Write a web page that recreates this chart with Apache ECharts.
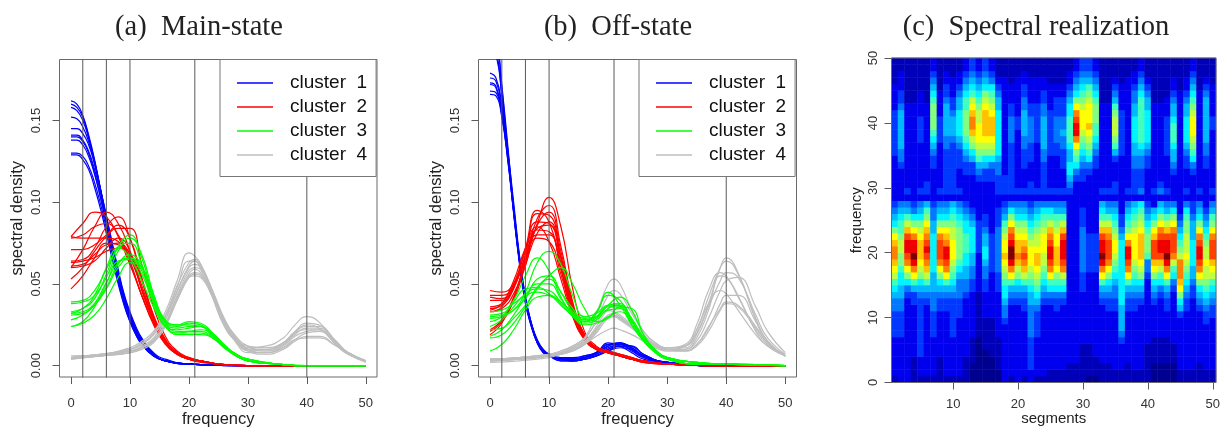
<!DOCTYPE html>
<html><head><meta charset="utf-8">
<script src="https://cdn.jsdelivr.net/npm/echarts@6/dist/echarts.min.js"></script>
<style>html,body{margin:0;padding:0;background:#fff}#c{width:1227px;height:429px;filter:blur(0.5px)}</style>
</head><body><div id="c"></div>
<script>
const titles=["(a)  Main-state","(b)  Off-state","(c)  Spectral realization"];
const clusterNames=["cluster  1","cluster  2","cluster  3","cluster  4"];
const clusterColors=["#0000ff","#ff0000","#00ff00","#bebebe"];
const freqTicks=[0,10,20,30,40,50];
const densityTicks=[0,0.05,0.10,0.15];
const segTicks=[10,20,30,40,50];
const heatFreqTicks=[0,10,20,30,40,50];
const vlines=[2,6,10,21,40];
// densities in thousandths
const a1X=[0,1,2,3,4,5,6,7,8,9,10,11,12,14,16,20,30,50];
const a1=[
[162,160,153,141,126,108,89,70,53,39,28,20,14,6,3,1,0,0],
[160,158,152,140,125,107,88,69,52,38,27,19,13,6,3,1,0,0],
[158,156,150,139,125,108,90,72,55,41,30,21,15,7,3,1,0,0],
[152,151,146,137,124,108,91,74,57,43,31,22,16,7,3,1,0,0],
[145,145,142,135,123,108,92,75,59,44,33,24,17,8,4,1,0,0],
[141,141,138,131,120,106,90,73,57,43,32,23,16,7,3,1,0,0],
[140,140,137,130,118,103,87,70,54,41,30,21,15,7,3,1,0,0],
[138,138,135,128,117,103,87,71,56,42,31,22,16,7,3,1,0,0],
[130,130,128,122,112,99,84,68,53,40,30,21,15,7,3,1,0,0],
[129,129,126,120,109,96,81,65,50,37,27,19,13,6,3,1,0,0]];
const a2X=[0,2,4,6,8,10,12,14,16,18,20,22,25,30,40,50];
const a2=[
[79,87,94,91,79,62,43,26,14,8,5,3,1,0,0,0],
[60,71,85,94,87,70,47,28,15,8,4,3,1,0,0,0],
[78,80,85,87,80,64,43,26,14,7,4,3,1,0,0,0],
[64,65,72,85,91,78,53,30,16,8,5,3,1,0,0,0],
[53,60,70,79,84,84,62,36,18,9,5,3,1,0,0,0],
[71,71,74,80,86,78,54,31,16,8,4,3,1,0,0,0],
[79,78,78,78,76,66,47,28,14,7,4,3,1,0,0,0],
[61,62,68,74,75,68,49,29,15,8,4,3,1,0,0,0],
[47,55,66,75,74,62,43,25,13,7,4,3,1,0,0,0],
[63,64,66,70,72,69,52,30,16,8,4,2,1,0,0,0],
[60,61,64,72,78,70,46,27,14,7,4,3,1,0,0,0]];
const a3X=[0,2,4,6,8,10,12,14,16,18,20,22,24,26,28,30,35,40,50];
const a3=[
[39,40,46,59,73,80,66,42,27,24,26,25,19,12,7,4,1,0,0],
[38,39,43,54,70,78,68,44,28,25,27,26,20,12,7,3,1,0,0],
[33,35,41,56,72,75,62,40,26,23,24,24,18,11,6,3,1,0,0],
[32,33,38,48,62,68,61,41,27,25,25,24,19,12,7,3,1,0,0],
[32,35,43,60,72,66,52,36,24,22,23,24,20,13,7,4,1,0,0],
[31,32,37,47,60,66,60,42,26,21,21,21,18,12,7,3,1,0,0],
[28,31,38,51,63,66,58,39,24,20,21,22,19,12,7,4,1,0,0],
[24,27,36,50,64,65,56,38,24,20,20,20,17,11,6,3,1,0,0],
[24,26,31,41,54,63,60,43,26,19,19,19,17,11,6,3,1,0,0]];
const a4X=[0,5,10,12,14,16,18,20,21,22,24,26,28,30,33,36,38,40,42,45,47,50];
const a4=[
[6,7,11,15,21,33,52,69,67,62,42,24,15,11,12,17,25,30,27,14,8,3],
[5,7,10,13,20,31,49,63,65,62,46,27,16,12,11,14,21,26,25,15,8,3],
[5,7,10,13,19,29,46,61,64,61,45,28,17,11,10,14,21,24,24,14,8,3],
[5,7,9,12,17,28,45,60,62,60,46,29,18,12,9,13,19,23,23,14,8,3],
[5,6,9,11,16,26,43,58,60,59,45,28,17,10,9,13,20,25,23,13,7,3],
[5,6,9,11,16,26,42,56,59,57,44,28,17,10,8,12,18,21,22,13,8,3],
[5,6,8,11,15,25,40,54,56,55,43,27,15,9,8,11,16,20,21,14,8,3],
[4,6,8,11,15,25,41,55,57,56,44,28,16,9,7,10,15,18,18,12,7,3],
[4,6,8,10,14,24,40,54,55,54,42,26,14,8,8,11,16,17,17,12,7,2],
[5,6,10,14,19,30,48,64,64,59,42,25,15,10,10,14,20,22,22,13,8,3]];
const b1X=[0,1,2,3,4,5,6,7,8,9,10,12,14,16,18,20,22,24,26,30,40,50];
const b1=[
[215,205,172,135,97,65,41,26,16,10,7,5,5,6,8,13,14,11,6,2,0,0],
[205,200,170,132,94,63,39,25,15,10,7,4,4,6,8,14,12,8,4,1,0,0],
[200,194,165,130,93,62,38,24,14,9,6,4,4,5,8,13,13,9,5,1,0,0],
[192,190,165,131,96,64,40,25,15,9,7,4,4,5,7,12,14,11,6,2,0,0],
[179,176,160,132,100,67,42,26,15,9,6,4,3,4,6,10,13,12,7,2,0,0],
[176,174,158,130,97,65,40,25,14,9,6,4,3,4,6,9,12,12,7,2,0,0],
[173,171,155,128,95,64,40,25,15,9,7,4,4,5,7,11,13,11,6,2,0,0],
[172,170,154,126,94,63,39,24,14,8,6,3,3,4,6,9,11,10,6,2,0,0],
[168,167,153,128,97,66,42,26,15,9,7,4,4,5,8,12,14,10,5,2,0,0],
[166,165,152,126,95,64,40,25,14,8,6,3,3,4,6,10,12,10,6,2,0,0]];
const b2X=[0,2,4,6,8,10,12,14,16,18,20,22,24,26,30,40,50];
const b2=[
[46,45,50,65,87,103,85,47,21,12,9,7,5,3,1,0,0],
[43,43,49,66,90,98,73,39,19,11,9,7,5,3,1,0,0],
[42,41,50,72,95,88,60,32,17,11,9,7,5,3,1,0,0],
[40,40,48,68,93,92,66,35,18,11,8,6,4,3,1,0,0],
[36,38,49,70,88,87,63,34,18,11,8,6,4,3,1,0,0],
[35,37,47,67,84,86,67,37,19,11,8,6,4,3,1,0,0],
[34,38,52,72,85,76,53,30,16,10,8,6,4,3,1,0,0],
[33,36,48,66,83,82,60,33,17,10,8,6,4,2,1,0,0],
[33,35,44,62,81,88,66,36,18,11,8,6,4,3,1,0,0],
[22,28,42,64,86,94,70,38,19,11,8,6,4,3,1,0,0],
[21,27,40,61,80,80,59,33,17,10,8,6,4,2,1,0,0],
[19,26,41,63,78,76,56,31,16,10,8,6,4,2,1,0,0]];
const b3X=[0,2,4,6,8,10,12,14,16,18,20,22,24,26,28,30,35,40,50];
const b3=[
[33,34,38,43,45,43,39,33,29,30,34,35,27,17,9,5,1,1,0],
[31,32,40,55,66,58,42,31,27,33,43,40,28,16,9,5,2,1,0],
[30,31,34,45,63,70,62,43,30,32,37,37,27,16,8,4,1,1,0],
[29,30,34,41,53,55,45,33,27,32,45,37,25,15,8,4,1,1,0],
[27,30,39,47,48,44,37,31,28,30,36,36,25,15,8,4,1,1,0],
[24,28,36,44,47,46,39,32,27,29,37,38,27,16,9,5,1,1,0],
[22,23,29,37,48,55,60,50,35,27,29,36,35,19,10,5,2,1,0],
[18,22,31,42,50,50,41,31,26,28,35,37,29,17,9,5,2,1,0],
[17,19,26,36,47,53,45,35,28,30,37,42,34,19,9,5,2,1,0],
[9,13,22,34,42,43,38,30,25,26,30,33,27,17,9,5,2,1,0]];
const b4X=[0,5,10,12,14,16,18,20,21,22,24,26,28,30,33,35,37,39,40,42,45,47,50];
const b4=[
[4,5,7,9,12,17,32,50,53,50,34,21,14,11,12,20,38,60,66,57,28,15,6],
[4,4,6,8,11,16,28,43,46,44,32,21,14,11,12,22,42,60,64,56,29,15,6],
[3,4,6,7,10,14,24,35,38,37,28,19,13,11,13,25,46,57,55,43,21,12,6],
[4,5,7,9,12,17,26,34,33,31,25,18,13,11,11,19,36,52,57,54,31,17,7],
[4,4,6,8,10,14,22,31,32,30,24,17,12,10,10,15,29,46,52,54,36,21,8],
[3,4,6,7,10,14,22,30,31,29,24,17,12,10,10,17,34,55,54,42,22,13,6],
[3,4,6,7,9,13,21,30,30,28,23,17,12,10,12,22,38,46,44,34,19,12,7],
[3,4,6,7,10,13,20,29,30,29,23,17,12,10,9,13,23,38,43,43,27,15,6],
[4,5,7,8,11,15,23,30,31,29,24,17,12,9,9,13,24,35,39,37,24,14,6],
[2,3,5,7,9,13,18,22,23,22,19,15,11,9,9,12,21,34,38,36,23,14,6]];
// one string per segment, one hex level per frequency row from 0 upward
const heatLevels=[
"122222233 33445679ab ccba865432 2222223333 33322221111",
"222222233 3344556678 8998776542 2222344555 55543322211",
"222222222 22223468ac deedb97542 3222222222 22221111111",
"111122222 2223357ace feeca86432 2222222222 22221111111",
"122233333 333345689a bbba986542 3222222233 33222211111",
"122222222 22234579bc dedcba8752 3322222222 22221111111",
"122222233 3344455566 6666554432 2222334567 88887654322",
"111122222 22334568ac dddca86542 3222222233 33222211111",
"122222222 2233457acd eecba86542 3333333445 55554332211",
"122222233 3333456789 aaa9987652 3333333345 55433222111",
"122222222 2333444567 8888876542 3222333456 66655432211",
"111122222 2222344556 6777665432 2223345678 88877654322",
"000111122 2222233445 5666654322 222335689b ccba9765433",
"000000011 1111122222 2333332222 22345789aa a9987654322",
"000001111 1222233445 6655433222 22335689ab bbba9865433",
"000011111 1222222233 3333222222 22334689ab bba98764322",
"001111122 2222233344 4444433322 3334456666 66655432111",
"222222222 344566789a baa9875432 3332222222 22222222111",
"122222222 2223457ace ffedca8642 3333333344 44332221111",
"222222222 222345689b cbba986542 3222222222 33222222111",
"122222222 22334579bc dcba986542 3222333445 55544332211",
"223333344 444556789a aa98765432 3322233344 44332222111",
"122222233 33456789ab ba99876542 3222222233 33332222111",
"122222222 2223456789 9aaa987642 3333344555 55443322111",
"112222222 2223467acd eedcb97642 3222223333 33322221111",
"112222222 22334678ab bbaa987542 3222223344 44333221111",
"112222222 22234679cd eeedb97542 3222333445 44333221111",
"111222222 2222222222 2222222222 3456655677 77665432211",
"111222222 2222222222 2222222222 2234678ace edca8654322",
"111111222 2222233344 4444433322 2233456789 aaa98765433",
"011111222 2222222233 3333222222 222346789a baaa9875433",
"011122222 2222222233 3333222222 2222334567 78887654322",
"111222222 2223457ace feedb97652 3222222222 22221111111",
"111222222 22334568ac dddcb97542 3222222222 22221111111",
"112222222 2233445678 9aa9876542 3322235789 99875432111",
"112222345 5556666666 6665433222 2222223333 33322221111",
"111222222 2233457acd eeca876542 3222222222 22222222111",
"112222222 2233456789 aaaa987652 3333445566 66554432211",
"112222222 222345689a bbbba98762 4333445677 77777654322",
"111111222 2222222344 7888765432 2222334566 66655432111",
"000111122 22234568ab dddba86522 3222222222 22221111111",
"000111122 222234679b deedca8652 4322222222 22221111111",
"000111122 2233457ace feedb97542 3222223333 33222111111",
"000111222 2222234679 cdddca8642 2223455677 76554322111",
"112222222 23568abccc 9876543222 2222222222 22222211111",
"112222222 2233456789 a999887642 3222334566 66554322111",
"112222222 2222334556 6665554332 222346789a aa987654322",
"111222222 2234568acd eedca86542 3222222222 22222211111",
"112222222 334567899a 9987654322 2222334455 55555432111",
"112222222 23345679ab dddca87542 3222222222 33222221111"];
const jet=["#000090","#0000b8","#0000ee","#0038ff","#0078ff","#00b8ff","#00f4ff","#40ffbf","#80ff80","#bfff40","#ffff00","#ffc000","#ff8000","#ff4000","#ee0000","#7f0000"];

const axisGray="#5a5a5a", txt="#333";
const font="Liberation Sans";
function curves(rows,xs,c,g){
  return rows.map(r=>({type:'line',name:clusterNames[c],xAxisIndex:g,yAxisIndex:g,
    data:r.map((v,i)=>[xs[i],v/1000]),showSymbol:false,symbol:'none',smooth:0.5,
    lineStyle:{color:clusterColors[c],width:1.2},itemStyle:{color:clusterColors[c]},
    silent:true,animation:false,z:2}));
}
function xAx(g,min,max,ticks,name,gap){return {gridIndex:g,type:'value',min,max,position:'bottom',
  name,nameLocation:'middle',nameGap:gap,nameMoveOverlap:false,nameTextStyle:{fontFamily:font,fontSize:g==2?15:16.5,color:'#222'},
  splitLine:{show:false},axisLine:{show:false,onZero:false},
  axisTick:{show:true,length:7,customValues:ticks,lineStyle:{color:axisGray}},
  axisLabel:{customValues:ticks,fontFamily:font,fontSize:13,color:txt,margin:g==2?15:20,formatter:v=>String(v)}};}
function yAx(g,min,max,ticks,name,gap,fmt){return {gridIndex:g,type:'value',min,max,position:'left',
  name,nameLocation:'middle',nameGap:gap,nameMoveOverlap:false,nameTextStyle:{fontFamily:font,fontSize:g==2?15:16.5,color:'#222'},
  splitLine:{show:false},axisLine:{show:false,onZero:false},
  axisTick:{show:true,length:7,customValues:ticks,lineStyle:{color:axisGray}},
  axisLabel:{customValues:ticks,rotate:90,fontFamily:font,fontSize:13,color:txt,margin:g==2?12:17,formatter:fmt}};}
function vl(g){return vlines.map(x=>({type:'line',xAxisIndex:g,yAxisIndex:g,data:[[x,-1],[x,1]],symbol:'none',
  lineStyle:{color:'#5a5a5a',width:1},silent:true,animation:false,z:3}));}
function leg(left,top){return {left,top,orient:'vertical',align:'left',selectedMode:false,data:clusterNames,
  icon:'rect',itemWidth:36,itemHeight:1.5,itemGap:5,padding:[14,9,12,17],backgroundColor:'#fff',borderColor:'#777',borderWidth:1,
  textStyle:{fontFamily:font,fontSize:19,color:'#111',padding:[0,0,0,12]},z:4};}

const yMin=-0.0069,yMax=0.1873,xMin=-1.95,xMax=51.9;
const heat=[];
heatLevels.forEach((s,i)=>{s.replace(/\s/g,'').split('').forEach((ch,j)=>heat.push([i,j,parseInt(ch,16)]));});
const segNames=heatLevels.map((s,i)=>String(i+1));
const rowNames=Array.from({length:50},(_,i)=>String(i));
const border={show:true,borderColor:'#6a6a6a',borderWidth:1,backgroundColor:'transparent',outerBoundsMode:'none'};
const series=[].concat(
  curves(a1,a1X,0,0),curves(a2,a2X,1,0),curves(a4,a4X,3,0),curves(a3,a3X,2,0),vl(0),
  curves(b1,b1X,0,1),curves(b2,b2X,1,1),curves(b4,b4X,3,1),curves(b3,b3X,2,1),vl(1));
const heatIdx=series.length;
series.push({type:'heatmap',xAxisIndex:3,yAxisIndex:3,data:heat,progressive:0,animation:false,silent:true,z:1});
const fmt2=v=>v.toFixed(2);
const chart=echarts.init(document.getElementById('c'),null,{renderer:'canvas'});
chart.setOption({
  animation:false,backgroundColor:'#fff',
  title:[[194,titles[0]],[613,titles[1]],[1031,titles[2]]].map(([x,t])=>({text:t,left:x,top:8,textAlign:'center',
    textStyle:{fontFamily:'Liberation Serif',fontWeight:'normal',fontSize:28.5,color:'#222'}})),
  grid:[
    Object.assign({left:59.5,top:59.5,width:317.5,height:317.5},border),
    Object.assign({left:478.5,top:59.5,width:318,height:317.5},border),
    Object.assign({left:891.5,top:58,width:324.5,height:324.5,z:5},border)],
  legend:[leg(220,59.5),leg(639,59.5)],
  visualMap:{show:false,seriesIndex:heatIdx,dimension:2,min:0,max:15,inRange:{color:jet}},
  xAxis:[
    xAx(0,xMin,xMax,freqTicks,'frequency',34),
    xAx(1,xMin,xMax,freqTicks,'frequency',34),
    xAx(2,0.5,50.5,segTicks,'segments',29),
    {gridIndex:2,type:'category',data:segNames,show:false,position:'bottom'}],
  yAxis:[
    yAx(0,yMin,yMax,densityTicks,'spectral density',34,fmt2),
    yAx(1,yMin,yMax,densityTicks,'spectral density',34,fmt2),
    yAx(2,0,50,heatFreqTicks,'frequency',27,v=>String(v)),
    {gridIndex:2,type:'category',data:rowNames,show:false,position:'left'}],
  series
});
</script></body></html>
